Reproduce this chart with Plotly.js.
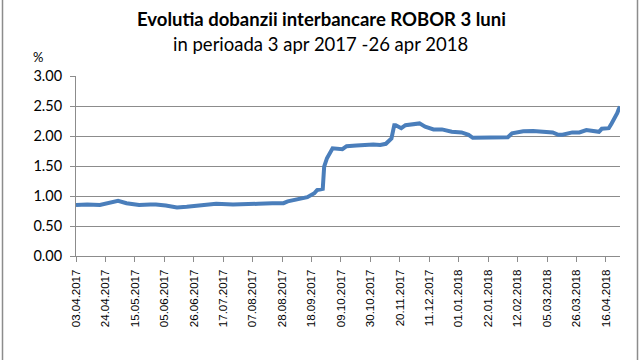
<!DOCTYPE html>
<html>
<head>
<meta charset="utf-8">
<script src="https://cdn.plot.ly/plotly-3.0.1.min.js"></script>
<style>html,body{margin:0;padding:0;background:#fff;}#chart{width:640px;height:360px;}</style>
</head>
<body>
<div id="chart"></div>
<script>
const dates = [
  "2017-04-03","2017-04-11","2017-04-20","2017-04-27","2017-05-03","2017-05-09","2017-05-18","2017-05-26","2017-05-30",
  "2017-06-06","2017-06-14","2017-06-21","2017-06-28","2017-07-05","2017-07-10","2017-07-12","2017-07-24","2017-08-07",
  "2017-08-11","2017-08-21","2017-08-29","2017-09-01","2017-09-08","2017-09-15","2017-09-20","2017-09-22","2017-09-26",
  "2017-09-27","2017-09-29","2017-10-03","2017-10-10","2017-10-13","2017-10-20","2017-10-27","2017-11-01","2017-11-06",
  "2017-11-10","2017-11-14","2017-11-16","2017-11-17","2017-11-21","2017-11-24","2017-12-01","2017-12-04","2017-12-08",
  "2017-12-14","2017-12-20","2017-12-27","2018-01-03","2018-01-08","2018-01-11","2018-01-19","2018-02-01","2018-02-05",
  "2018-02-08","2018-02-16","2018-02-23","2018-03-02","2018-03-09","2018-03-13","2018-03-16","2018-03-23","2018-03-28",
  "2018-04-02","2018-04-06","2018-04-11","2018-04-13","2018-04-18","2018-04-20","2018-04-23","2018-04-24","2018-04-25","2018-04-26"
];
const robor = [
  0.85,0.86,0.85,0.89,0.92,0.88,0.85,0.86,0.86,
  0.84,0.81,0.82,0.84,0.85,0.88,0.87,0.86,0.86,
  0.87,0.88,0.88,0.91,0.945,0.98,1.045,1.10,1.12,
  1.49,1.63,1.795,1.78,1.83,1.84,1.86,1.86,1.85,
  1.87,1.96,2.18,2.18,2.13,2.18,2.21,2.21,2.155,
  2.11,2.11,2.07,2.06,2.02,1.97,1.97,1.97,1.98,
  2.045,2.08,2.085,2.08,2.06,2.02,2.02,2.06,2.06,
  2.10,2.08,2.07,2.12,2.13,2.21,2.32,2.38,2.44,2.49
];
const yTicks = [0, 0.5, 1, 1.5, 2, 2.5, 3];
const titleLine1 = "Evolutia dobanzii interbancare ROBOR 3 luni";
const titleLine2 = "in perioada 3 apr 2017 -26 apr 2018";

const grid = "#8c8c8c";
const trace = {
  x: dates, y: robor, type: "scatter", mode: "lines",
  line: {color: "#4A7EBB", width: 4},
  hoverinfo: "skip"
};
const layout = {
  width: 640, height: 360,
  margin: {l: 76, r: 20, t: 76, b: 104},
  paper_bgcolor: "#ffffff", plot_bgcolor: "#ffffff",
  showlegend: false,
  font: {family: "Lato, 'Open Sans', sans-serif", color: "#000"},
  xaxis: {
    type: "date",
    range: ["2017-04-03", "2018-04-26"],
    tick0: "2017-04-03", dtick: 21 * 86400000,
    tickformat: "%d.%m.%Y", tickangle: -90,
    tickfont: {family: "Liberation Sans, Arial, sans-serif", size: 11.5, color: "#000"},
    ticks: "outside", ticklen: 5, tickcolor: grid,
    ticklabelstandoff: 3,
    showline: true, linecolor: grid, linewidth: 1,
    showgrid: false, zeroline: false
  },
  yaxis: {
    range: [0, 3], tickvals: yTicks, tickformat: ".2f",
    tickfont: {family: "Lato, 'Open Sans', sans-serif", size: 14.5, color: "#000"},
    ticks: "outside", ticklen: 5, tickcolor: grid,
    ticklabelstandoff: 5,
    showline: true, linecolor: grid, linewidth: 1,
    showgrid: true, gridcolor: grid, gridwidth: 1, zeroline: false
  },
  annotations: [
    {text: "<b>" + titleLine1 + "</b>", xref: "paper", yref: "paper", x: (321-76)/544, y: (256-19)/180,
     xanchor: "center", yanchor: "middle", showarrow: false, font: {family: "Lato, sans-serif", size: 18.5, color: "#000"}},
    {text: titleLine2, xref: "paper", yref: "paper", x: (320-76)/544, y: (256-44)/180,
     xanchor: "center", yanchor: "middle", showarrow: false, font: {family: "Lato, sans-serif", size: 18.5, color: "#000"}},
    {text: "%", xref: "paper", yref: "paper", x: (38-76)/544, y: (256-57)/180,
     xanchor: "center", yanchor: "middle", showarrow: false, font: {family: "Lato, sans-serif", size: 13, color: "#000"}}
  ],
  shapes: [
    {type: "line", xref: "paper", yref: "paper", x0: (2.5-76)/544, x1: (2.5-76)/544, y0: (256+10)/180, y1: (256-370)/180,
     line: {color: "#8c8c8c", width: 1.5}},
    {type: "line", xref: "paper", yref: "paper", x0: (637.5-76)/544, x1: (637.5-76)/544, y0: (256+10)/180, y1: (256-370)/180,
     line: {color: "#8c8c8c", width: 1.5}}
  ]
};
Plotly.newPlot("chart", [trace], layout, {staticPlot: true, displayModeBar: false});
</script>
</body>
</html>
